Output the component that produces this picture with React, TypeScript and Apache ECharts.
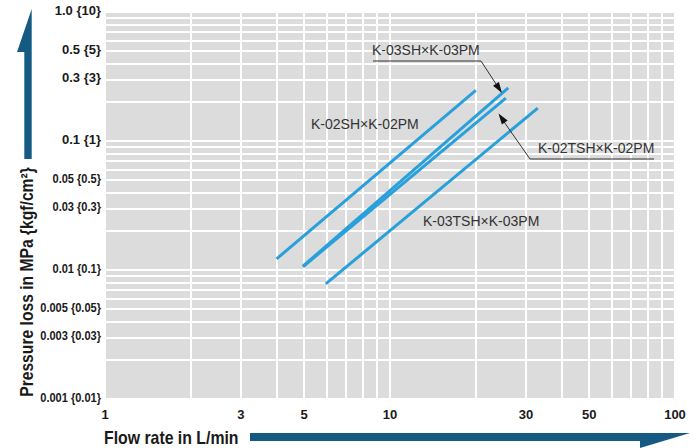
import React, { useEffect, useRef } from 'react';
import * as echarts from 'echarts';

// Grid (tick) values of the log-log chart
const xGridValues = [1, 2, 3, 4, 5, 6, 7, 8, 9, 10, 20, 30, 40, 50, 60, 70, 80, 90, 100];
const xLabelValues = [1, 3, 5, 10, 30, 50, 100];
const xLabels = ['1', '3', '5', '10', '30', '50', '100'];

const yGridValues = [
  0.001, 0.002, 0.003, 0.004, 0.005, 0.006, 0.007, 0.008, 0.009,
  0.01, 0.02, 0.03, 0.04, 0.05, 0.06, 0.07, 0.08, 0.09,
  0.1, 0.2, 0.3, 0.4, 0.5, 0.6, 0.7, 0.8, 0.9, 1,
];
const yLabelValues = [1, 0.5, 0.3, 0.1, 0.05, 0.03, 0.01, 0.005, 0.003, 0.001];
const yLabels = [
  '1.0 {10}', '0.5 {5}', '0.3 {3}', '0.1 {1}', '0.05 {0.5}', '0.03 {0.3}',
  '0.01 {0.1}', '0.005 {0.05}', '0.003 {0.03}', '0.001 {0.01}',
];

// Series: flow rate (L/min) vs pressure loss (MPa), end points of each straight line
const seriesNames = ['K-02SH×K-02PM', 'K-03SH×K-03PM', 'K-02TSH×K-02PM', 'K-03TSH×K-03PM'];
const flowK02SH = [4.0, 20];
const lossK02SH = [0.0122, 0.247];
const flowK03SH = [4.95, 26];
const lossK03SH = [0.0107, 0.258];
const flowK02TSH = [4.95, 25.5];
const lossK02TSH = [0.0106, 0.215];
const flowK03TSH = [5.95, 33];
const lossK03TSH = [0.0078, 0.18];

const xTitle = 'Flow rate in L/min';
const yTitle = 'Pressure loss in MPa {kgf/cm²}';

const LINE_COLOR = '#29a0db';
const ARROW_BLUE = '#145a82';
const WIDE = "'Liberation Sans', Arial, sans-serif";

const lg = (v: number) => Math.log10(v);
const near = (a: number, b: number) => Math.abs(a - b) < 1e-6;

function arrowHead(fx: number, fy: number, tx: number, ty: number, len = 11, half = 3.5) {
  const dx = tx - fx;
  const dy = ty - fy;
  const d = Math.sqrt(dx * dx + dy * dy);
  const ux = dx / d;
  const uy = dy / d;
  const bx = tx - ux * len;
  const by = ty - uy * len;
  return [
    [tx, ty],
    [bx - uy * half, by + ux * half],
    [bx + uy * half, by - ux * half],
  ];
}

export default function App() {
  const ref = useRef<HTMLDivElement>(null);

  useEffect(() => {
    document.body.style.margin = '0';
    if (!ref.current) return;
    const chart = echarts.init(ref.current, null, { renderer: 'svg' });

    const mk = (name: string, xs: number[], ys: number[]) => ({
      name,
      type: 'line',
      data: xs.map((x, i) => [lg(x), lg(ys[i])]),
      showSymbol: false,
      symbol: 'none',
      lineStyle: { color: LINE_COLOR, width: 3, cap: 'butt' },
      z: 3,
    });

    const annoText = (text: string, x: number, y: number) => ({
      type: 'text',
      x,
      y,
      z: 10,
      style: {
        text,
        fill: '#333',
        font: `14px ${WIDE}`,
        textAlign: 'left',
        textVerticalAlign: 'middle',
      },
    });

    const option: any = {
      animation: false,
      grid: {
        left: 105,
        right: 25,
        top: 12,
        bottom: 49,
        show: true,
        backgroundColor: '#dcdcdc',
        borderWidth: 0,
        containLabel: false,
        outerBoundsMode: 'none',
      },
      xAxis: {
        type: 'value',
        min: 0,
        max: 2,
        axisLine: { show: false },
        axisTick: { show: false, customValues: xGridValues.map(lg) },
        splitLine: { show: true, lineStyle: { color: '#ffffff', width: 2 } },
        axisLabel: {
          customValues: xLabelValues.map(lg),
          margin: 9,
          color: '#1a1a1a',
          fontFamily: WIDE,
          fontWeight: 'bold',
          fontSize: 13,
          formatter: (v: number) => {
            const i = xLabelValues.findIndex((x) => near(lg(x), v));
            return i < 0 ? '' : xLabels[i];
          },
        },
      },
      yAxis: {
        type: 'value',
        min: -3,
        max: 0,
        axisLine: { show: false },
        axisTick: { show: false, customValues: yGridValues.map(lg) },
        splitLine: { show: true, lineStyle: { color: '#ffffff', width: 2 } },
        axisLabel: { show: false },
      },
      series: [
        mk(seriesNames[0], flowK02SH, lossK02SH),
        mk(seriesNames[1], flowK03SH, lossK03SH),
        mk(seriesNames[2], flowK02TSH, lossK02TSH),
        mk(seriesNames[3], flowK03TSH, lossK03TSH),
      ],
    };

    chart.setOption(option);

    // y-axis labels placed through the axis scale (condensed where the original is)
    const yLabelGraphics = yLabelValues.map((v, i) => {
      const p = chart.convertToPixel({ gridIndex: 0 }, [0, lg(v)]) as number[];
      const t = yLabels[i];
      return {
        type: 'text',
        x: p[0] - 4,
        y: p[1] - 1.5,
        scaleX: t.length > 8 ? 0.85 : 1,
        z: 10,
        style: {
          text: t,
          fill: '#1a1a1a',
          font: `bold 13px ${WIDE}`,
          textAlign: 'right',
          textVerticalAlign: 'middle',
        },
      };
    });

    const graphics: any[] = [
      // vertical axis arrow
      {
        type: 'polygon',
        shape: {
          points: [[31.7, 9], [31.7, 159], [24.3, 159], [24.3, 52], [17, 52]],
        },
        style: { fill: ARROW_BLUE },
      },
      // horizontal axis arrow
      {
        type: 'polygon',
        shape: {
          points: [[250, 433], [690, 433], [640, 448], [640, 441], [250, 441]],
        },
        style: { fill: ARROW_BLUE },
      },
      {
        type: 'text',
        x: 27,
        y: 282,
        rotation: Math.PI / 2,
        scaleX: 0.87,
        style: {
          text: yTitle,
          fill: '#1a1a1a',
          font: `bold 18px ${WIDE}`,
          textAlign: 'center',
          textVerticalAlign: 'middle',
        },
      },
      {
        type: 'text',
        x: 104,
        y: 438,
        scaleX: 0.88,
        style: {
          text: xTitle,
          fill: '#1a1a1a',
          font: `bold 18px ${WIDE}`,
          textAlign: 'left',
          textVerticalAlign: 'middle',
        },
      },
      annoText(seriesNames[1], 372, 50),
      annoText(seriesNames[0], 311, 124),
      annoText(seriesNames[2], 538, 148),
      annoText(seriesNames[3], 423, 221),
      // leader for K-03SH
      {
        type: 'polyline',
        z: 10,
        shape: { points: [[373, 61], [481, 61], [498, 87]] },
        style: { stroke: '#333', lineWidth: 1, fill: null },
      },
      {
        type: 'polygon',
        z: 10,
        shape: { points: arrowHead(481, 61, 502, 93) },
        style: { fill: '#111' },
      },
      // leader for K-02TSH
      {
        type: 'polyline',
        z: 10,
        shape: { points: [[654, 159], [530, 159], [502, 119]] },
        style: { stroke: '#333', lineWidth: 1, fill: null },
      },
      {
        type: 'polygon',
        z: 10,
        shape: { points: arrowHead(530, 159, 498.5, 113.5) },
        style: { fill: '#111' },
      },
      ...yLabelGraphics,
    ];

    chart.setOption({ graphic: graphics });
    return () => chart.dispose();
  }, []);

  return <div ref={ref} style={{ width: 700, height: 448 }} />;
}
